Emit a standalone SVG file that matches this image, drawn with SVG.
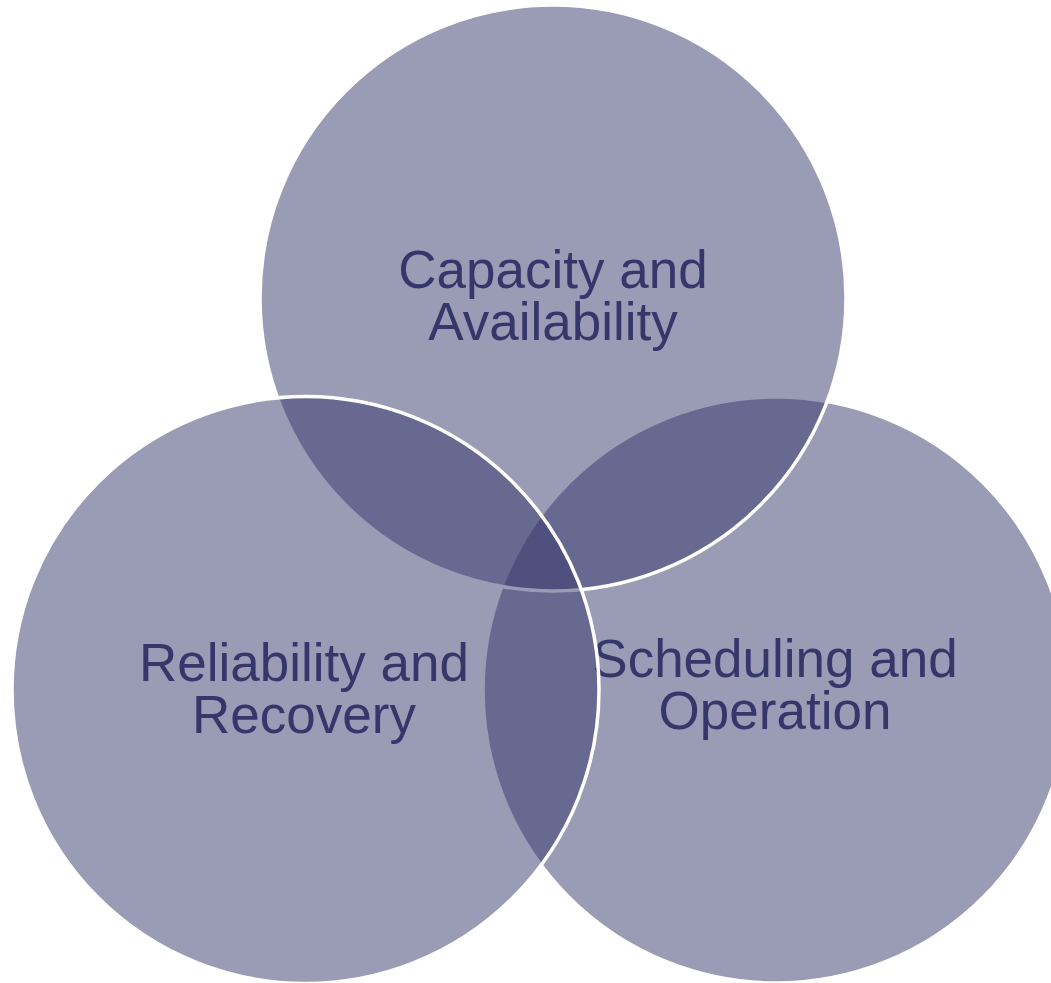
<svg xmlns="http://www.w3.org/2000/svg" width="1051" height="983" viewBox="0 0 1051 983">
  <style>
    .c { fill: #36386c; fill-opacity: 0.5; stroke: #ffffff; stroke-width: 3.5; }
    .t { font-family: "Liberation Sans", Arial, sans-serif; font-size: 53px; fill: #35366a; text-anchor: middle; }
  </style>
  <rect x="0" y="0" width="1051" height="983" fill="#ffffff"/>
  <g id="connectors"></g>
  <g id="node-scheduling">
    <circle class="c" cx="776" cy="690" r="293"/>
    <text class="t" x="775" y="677">Scheduling and</text>
    <text class="t" x="775" y="729">Operation</text>
  </g>
  <g id="node-capacity">
    <circle class="c" cx="553" cy="298" r="293"/>
    <text class="t" x="553" y="288">Capacity and</text>
    <text class="t" x="553" y="340">Availability</text>
  </g>
  <g id="node-reliability">
    <circle class="c" cx="305.5" cy="690" r="293.5"/>
    <text class="t" x="304" y="681">Reliability and</text>
    <text class="t" x="304" y="733">Recovery</text>
  </g>
</svg>
